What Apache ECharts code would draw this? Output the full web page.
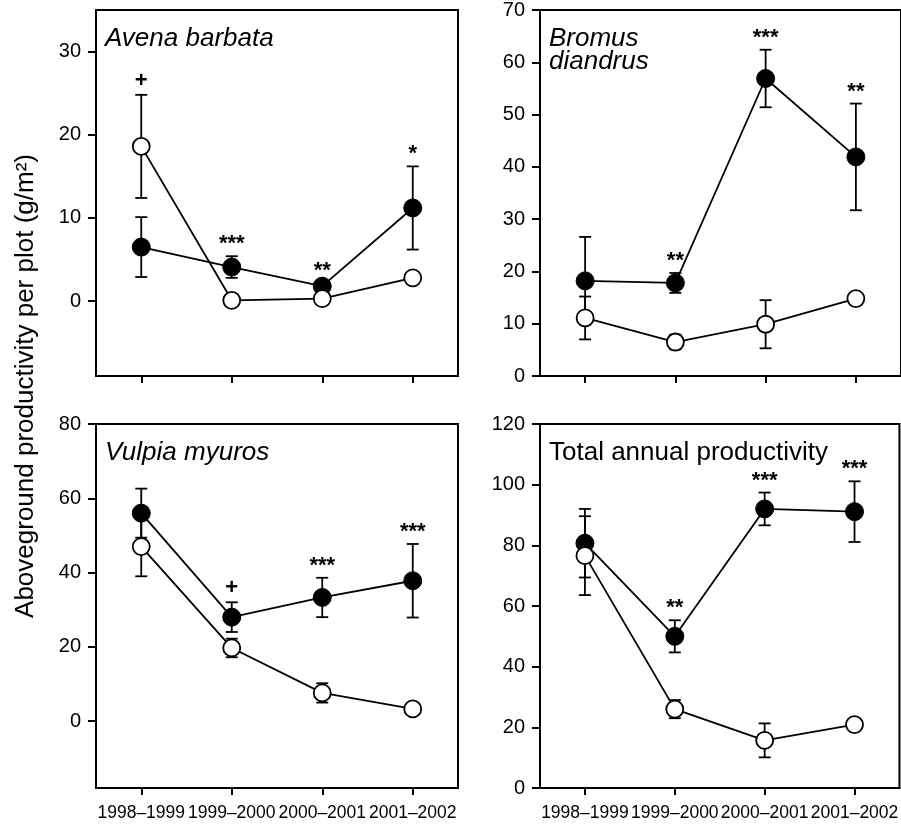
<!DOCTYPE html>
<html>
<head>
<meta charset="utf-8">
<title>Aboveground productivity per plot</title>
<script src="https://cdn.jsdelivr.net/npm/echarts@6.0.0/dist/echarts.min.js"></script>
<style>
html, body { margin: 0; padding: 0; background: #fff; }
#chart { width: 901px; height: 824px; }
</style>
</head>
<body>
<div id="chart"></div>
<script>
var years = ['1998–1999', '1999–2000', '2000–2001', '2001–2002'];

// Avena barbata
var avenaFilled = [6.5, 4.1, 1.8, 11.2];
var avenaFilledErr = [3.6, 1.3, 0.4, 5.0];
var avenaOpen = [18.6, 0.1, 0.3, 2.8];
var avenaOpenErr = [6.2, 0.2, 0.2, 0.3];
var avenaSig = ['+', '***', '**', '*'];
var avenaTicks = [0, 10, 20, 30];

// Bromus diandrus
var bromusFilled = [18.2, 17.8, 56.9, 41.9];
var bromusFilledErr = [8.4, 1.9, 5.5, 10.2];
var bromusOpen = [11.1, 6.5, 9.9, 14.8];
var bromusOpenErr = [4.1, 1.4, 4.6, 0.5];
var bromusSig = ['', '**', '***', '**'];
var bromusTicks = [0, 10, 20, 30, 40, 50, 60, 70];

// Vulpia myuros
var vulpiaFilled = [56.0, 28.0, 33.3, 37.8];
var vulpiaFilledErr = [6.6, 4.0, 5.3, 9.9];
var vulpiaOpen = [47.0, 19.7, 7.6, 3.3];
var vulpiaOpenErr = [8.0, 2.5, 2.6, 0.4];
var vulpiaSig = ['', '+', '***', '***'];
var vulpiaTicks = [0, 20, 40, 60, 80];

// Total annual productivity
var totalFilled = [80.7, 50.0, 92.0, 91.1];
var totalFilledErr = [11.3, 5.3, 5.4, 10.0];
var totalOpen = [76.6, 26.0, 15.7, 20.9];
var totalOpenErr = [13.0, 3.0, 5.6, 1.0];
var totalSig = ['', '**', '***', '***'];
var totalTicks = [0, 20, 40, 60, 80, 100, 120];

var FONT = '"Liberation Sans", Arial, Helvetica, sans-serif';

var panels = [
  { title: 'Avena barbata', italic: true, filled: avenaFilled, filledErr: avenaFilledErr,
    open: avenaOpen, openErr: avenaOpenErr, sig: avenaSig, ticks: avenaTicks,
    min: -9, max: 35, left: 96, top: 10, height: 366, labels: false },
  { title: 'Bromus\ndiandrus', italic: true, filled: bromusFilled, filledErr: bromusFilledErr,
    open: bromusOpen, openErr: bromusOpenErr, sig: bromusSig, ticks: bromusTicks,
    min: 0, max: 70, left: 540, top: 10, height: 366, labels: false },
  { title: 'Vulpia myuros', italic: true, filled: vulpiaFilled, filledErr: vulpiaFilledErr,
    open: vulpiaOpen, openErr: vulpiaOpenErr, sig: vulpiaSig, ticks: vulpiaTicks,
    min: -18, max: 80, left: 96, top: 424, height: 364, labels: true },
  { title: 'Total annual productivity', italic: false, filled: totalFilled, filledErr: totalFilledErr,
    open: totalOpen, openErr: totalOpenErr, sig: totalSig, ticks: totalTicks,
    min: 0, max: 120, left: 540, top: 424, height: 364, labels: true }
];

// vertical error bar with caps, drawn through the axis scales
function errorBar(params, api) {
  var lo = api.coord([api.value(0), api.value(1)]);
  var hi = api.coord([api.value(0), api.value(2)]);
  var cap = 6;
  var style = { stroke: '#000', lineWidth: 1.8 };
  return {
    type: 'group',
    children: [
      { type: 'line', shape: { x1: hi[0], y1: hi[1], x2: lo[0], y2: lo[1] }, style: style },
      { type: 'line', shape: { x1: hi[0] - cap, y1: hi[1], x2: hi[0] + cap, y2: hi[1] }, style: style },
      { type: 'line', shape: { x1: lo[0] - cap, y1: lo[1], x2: lo[0] + cap, y2: lo[1] }, style: style }
    ]
  };
}

var option = {
  animation: false,
  backgroundColor: '#fff',
  grid: [],
  xAxis: [],
  yAxis: [],
  title: [],
  series: [],
  graphic: [{
    type: 'text',
    x: 26,
    y: 386,
    rotation: Math.PI / 2,
    style: {
      text: 'Aboveground productivity per plot (g/m²)',
      font: '26px ' + FONT,
      fill: '#000',
      align: 'center',
      verticalAlign: 'middle'
    }
  }]
};

panels.forEach(function (p, k) {
  option.grid.push({
    left: p.left, top: p.top, width: 362, height: p.height,
    show: true, borderColor: '#000', borderWidth: 2, backgroundColor: 'transparent'
  });

  option.xAxis.push({
    type: 'category',
    gridIndex: k,
    data: years,
    boundaryGap: true,
    axisLine: { show: true, onZero: false, lineStyle: { color: '#000', width: 2 } },
    axisTick: { show: true, alignWithLabel: true, length: 7, lineStyle: { color: '#000', width: 2 } },
    axisLabel: { show: p.labels, interval: 0, margin: 16, color: '#000', fontSize: 17.5, fontFamily: FONT },
    splitLine: { show: false }
  });

  option.yAxis.push({
    type: 'value',
    gridIndex: k,
    min: p.min,
    max: p.max,
    axisLine: { show: true, lineStyle: { color: '#000', width: 2 } },
    axisTick: { show: true, length: 8, customValues: p.ticks, lineStyle: { color: '#000', width: 2 } },
    axisLabel: { margin: 15, customValues: p.ticks, color: '#000', fontSize: 20, fontFamily: FONT },
    splitLine: { show: false }
  });

  option.title.push({
    text: p.title,
    left: p.left + 4,
    top: p.top + 12,
    textStyle: {
      fontSize: 26, fontFamily: FONT, color: '#000', fontWeight: 'normal',
      fontStyle: p.italic ? 'italic' : 'normal', lineHeight: 23
    }
  });

  var bars = [];
  for (var i = 0; i < years.length; i++) {
    bars.push([i, p.filled[i] - p.filledErr[i], p.filled[i] + p.filledErr[i]]);
    bars.push([i, p.open[i] - p.openErr[i], p.open[i] + p.openErr[i]]);
  }
  option.series.push({
    type: 'custom', xAxisIndex: k, yAxisIndex: k, z: 2,
    renderItem: errorBar, data: bars, silent: true
  });

  option.series.push({
    type: 'line', xAxisIndex: k, yAxisIndex: k, z: 3,
    data: p.filled, symbol: 'circle', symbolSize: 18,
    itemStyle: { color: '#000', borderColor: '#000', borderWidth: 1 },
    lineStyle: { color: '#000', width: 1.8 },
    emphasis: { disabled: true }, silent: true
  });

  option.series.push({
    type: 'line', xAxisIndex: k, yAxisIndex: k, z: 4,
    data: p.open, symbol: 'circle', symbolSize: 17,
    itemStyle: { color: '#fff', borderColor: '#000', borderWidth: 1.8 },
    lineStyle: { color: '#000', width: 1.8 },
    emphasis: { disabled: true }, silent: true
  });

  // significance marks sit above the highest error bar of each year
  var sigData = [];
  for (var j = 0; j < years.length; j++) {
    if (p.sig[j]) {
      sigData.push([j, Math.max(p.filled[j] + p.filledErr[j], p.open[j] + p.openErr[j])]);
    }
  }
  option.series.push({
    type: 'custom', xAxisIndex: k, yAxisIndex: k, z: 5, silent: true,
    data: sigData,
    renderItem: function (params, api) {
      var idx = api.value(0);
      var t = p.sig[idx];
      var pt = api.coord([idx, api.value(1)]);
      var plus = t === '+';
      return {
        type: 'text',
        x: pt[0],
        y: pt[1] - (plus ? 14 : 12),
        style: {
          text: t,
          fill: '#000',
          font: 'bold ' + (plus ? '22px ' : '22px ') + FONT,
          align: 'center',
          verticalAlign: 'middle'
        }
      };
    }
  });
});

var chart = echarts.init(document.getElementById('chart'));
chart.setOption(option);
</script>
</body>
</html>
